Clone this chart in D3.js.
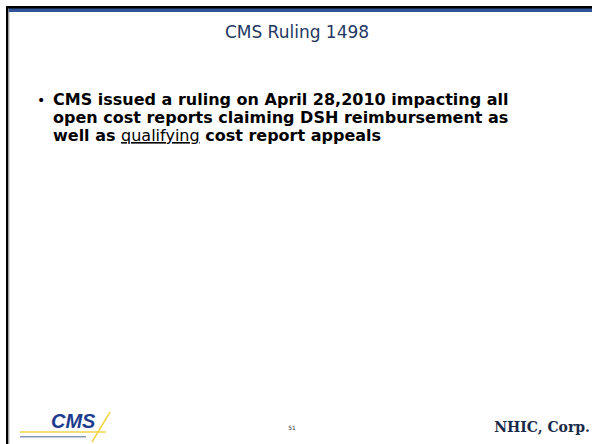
<!DOCTYPE html>
<html>
<head>
<meta charset="utf-8">
<script src="https://cdn.jsdelivr.net/npm/d3@7"></script>
<style>
  body { margin: 0; background: #fff; }
</style>
</head>
<body>
<div id="slide"></div>
<script>
// slide content
var title = 'CMS Ruling 1498';
var bulletLines = [
    [{ t: 'CMS issued a ruling on April 28,2010 impacting all', bold: true }],
    [{ t: 'open cost reports claiming DSH reimbursement as', bold: true }],
    [{ t: 'well as ', bold: true }, { t: 'qualifying', bold: false, underline: true }, { t: ' cost report appeals', bold: true }]
];
var pageNumber = '51';
var footerRight = 'NHIC, Corp.';

var svgWidth = 592,
    svgHeight = 444;

var svg = d3.select('#slide').append('svg')
    .attr('width', svgWidth)
    .attr('height', svgHeight)
    .style('display', 'block');

svg.append('rect')
    .attr('width', svgWidth)
    .attr('height', svgHeight)
    .attr('fill', '#fff');

// frame: black top/left rule with blue band
svg.append('rect')
    .attr('x', 9).attr('y', 8)
    .attr('width', svgWidth - 9).attr('height', 4)
    .attr('fill', '#2f5597');
svg.append('rect')
    .attr('x', 6).attr('y', 6)
    .attr('width', svgWidth - 6).attr('height', 2.5)
    .attr('fill', '#000');
svg.append('rect')
    .attr('x', 6).attr('y', 6)
    .attr('width', 2.5).attr('height', svgHeight - 6)
    .attr('fill', '#000');
svg.append('rect')
    .attr('x', 8.5).attr('y', 12)
    .attr('width', 1).attr('height', svgHeight - 12)
    .attr('fill', '#bbb');

svg.append('text')
    .attr('x', 297)
    .attr('y', 38)
    .attr('text-anchor', 'middle')
    .style('font-family', 'DejaVu Sans, sans-serif')
    .style('font-size', '17px')
    .attr('fill', '#1f3864')
    .text(title);

// bullet
svg.append('text')
    .attr('x', 37)
    .attr('y', 105)
    .style('font-family', 'DejaVu Sans, sans-serif')
    .style('font-size', '14px')
    .attr('fill', '#000')
    .text('\u2022');

var y = d3.scaleLinear().domain([0, 1]).range([105, 123]);

var body = svg.append('g');
bulletLines.forEach(function (line, i) {
    var txt = body.append('text')
        .attr('x', 53)
        .attr('y', y(i))
        .style('font-family', 'DejaVu Sans, Verdana, sans-serif')
        .style('font-size', '16px')
        .attr('fill', '#000')
        .attr('xml:space', 'preserve');
    line.forEach(function (s) {
        txt.append('tspan')
            .style('font-weight', s.bold ? 'bold' : 'normal')
            .style('text-decoration', s.underline ? 'underline' : null)
            .text(s.t);
    });
});

// footer
var logo = svg.append('g').attr('transform', 'translate(20,412)');
logo.append('text')
    .attr('x', 31).attr('y', 16)
    .style('font-family', 'Liberation Sans, Arial, sans-serif')
    .style('font-size', '20px')
    .style('font-weight', 'bold')
    .style('font-style', 'italic')
    .attr('fill', '#1d3c8f')
    .text('CMS');
logo.append('line')
    .attr('x1', 0).attr('y1', 20).attr('x2', 86).attr('y2', 20)
    .attr('stroke', '#f2d44a').attr('stroke-width', 1.5);
logo.append('line')
    .attr('x1', 72).attr('y1', 30).attr('x2', 90).attr('y2', 0)
    .attr('stroke', '#f2d44a').attr('stroke-width', 1.5);
logo.append('rect')
    .attr('x', 0).attr('y', 24).attr('width', 66).attr('height', 1.5)
    .attr('fill', '#8896b8');

svg.append('text')
    .attr('x', 292).attr('y', 430)
    .attr('text-anchor', 'middle')
    .style('font-family', 'DejaVu Sans, sans-serif')
    .style('font-size', '6px')
    .attr('fill', '#333')
    .text(pageNumber);

svg.append('text')
    .attr('x', 590).attr('y', 432)
    .attr('text-anchor', 'end')
    .style('font-family', 'DejaVu Serif, serif')
    .style('font-size', '14px')
    .style('font-weight', 'bold')
    .attr('fill', '#1a2a4a')
    .text(footerRight);
</script>
</body>
</html>
